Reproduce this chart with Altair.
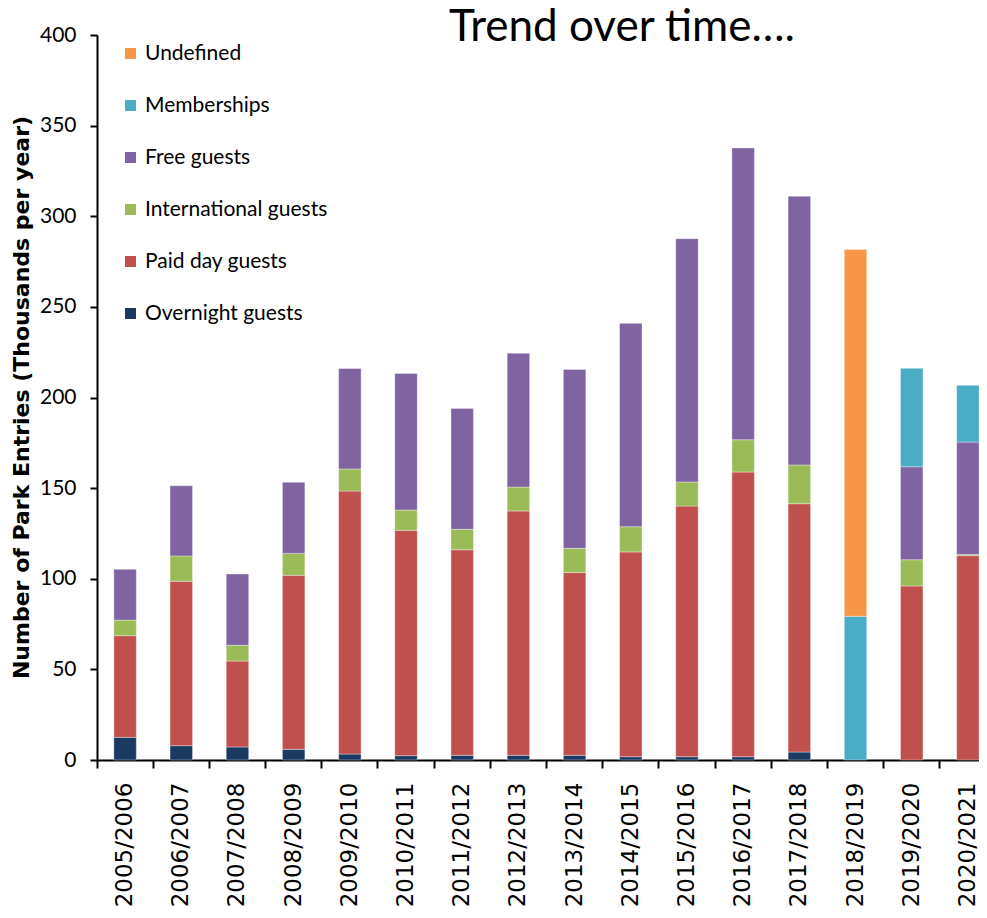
import altair as alt
import pandas as pd

seasons = ["2005/2006", "2006/2007", "2007/2008", "2008/2009", "2009/2010",
           "2010/2011", "2011/2012", "2012/2013", "2013/2014", "2014/2015",
           "2015/2016", "2016/2017", "2017/2018", "2018/2019", "2019/2020",
           "2020/2021"]

overnight = [12.5, 7.9, 7.2, 5.9, 3.3, 2.4, 2.6, 2.6, 2.6, 1.8, 1.8, 1.8, 4.4, 0, 0, 0]
paid_day = [56.1, 90.7, 47.4, 96.0, 145.1, 124.3, 113.4, 134.8, 100.8, 113.0, 138.3, 157.1, 137.0, 0, 96.0, 112.7]
international = [8.6, 14.0, 8.7, 12.1, 12.2, 11.2, 11.3, 13.2, 13.4, 13.9, 13.3, 17.8, 21.4, 0, 14.5, 0.7]
free = [28.0, 38.7, 39.3, 39.2, 55.4, 75.4, 66.7, 73.8, 98.7, 112.2, 134.2, 161.0, 148.2, 0, 51.3, 62.0]
memberships = [0, 0, 0, 0, 0, 0, 0, 0, 0, 0, 0, 0, 0, 79.3, 54.3, 31.3]
undefined = [0, 0, 0, 0, 0, 0, 0, 0, 0, 0, 0, 0, 0, 202.3, 0, 0]

series_names = ["Overnight guests", "Paid day guests", "International guests",
                "Free guests", "Memberships", "Undefined"]
series_values = [overnight, paid_day, international, free, memberships, undefined]
series_colors = ["#1B3A62", "#C0504D", "#9BBB59", "#8064A2", "#4BACC6", "#F79646"]

y_ticks = [0, 50, 100, 150, 200, 250, 300, 350, 400]
title_text = "Trend over time…."
y_title = "Number of Park Entries (Thousands per year)"

rows = []
for order, (name, vals) in enumerate(zip(series_names, series_values)):
    for s, v in zip(seasons, vals):
        if v > 0:
            rows.append({"season": s, "series": name, "value": v, "ord": order})
df = pd.DataFrame(rows)

legend_order = series_names[::-1]
legend_colors = series_colors[::-1]

bars = alt.Chart(df).mark_bar(
    width={"band": 0.4}, stroke="white", strokeWidth=0.6, strokeOpacity=0.6
).encode(
    x=alt.X("season:N", sort=seasons, title=None,
            scale=alt.Scale(range=[0, 899], paddingInner=0, paddingOuter=0),
            axis=alt.Axis(labelAngle=-90, labelAlign="right", labelBaseline="middle",
                          bandPosition=0, labelOffset=0, labelPadding=14,
                          tickSize=8, labelFont="DejaVu Sans", labelFontSize=23,
                          labelColor="black")),
    y=alt.Y("value:Q", stack="zero",
            scale=alt.Scale(domain=[0, 400], nice=False),
            axis=alt.Axis(values=y_ticks, title=y_title, titleFont="DejaVu Sans",
                          titleFontSize=22, titleFontWeight="bold", titleColor="black",
                          titleX=-64, titleY=362, titleAngle=-90, titleAlign="center",
                          titleBaseline="bottom",
                          labelFont="Lato", labelFontSize=21, labelColor="black",
                          tickSize=7, labelPadding=14, grid=False)),
    color=alt.Color("series:N",
                    scale=alt.Scale(domain=legend_order, range=legend_colors),
                    legend=alt.Legend(title=None, orient="none", legendX=23, legendY=8,
                                      symbolType="square", symbolSize=121,
                                      symbolStrokeWidth=0, labelFont="Lato",
                                      labelFontSize=21, labelColor="black",
                                      labelLimit=400,
                                      labelOffset=4, rowPadding=30)),
    order=alt.Order("ord:Q", sort="ascending"),
)

title_df = pd.DataFrame({"label": [title_text]})
title = alt.Chart(title_df).mark_text(
    font="Lato", fontSize=44, color="black", align="center", baseline="alphabetic"
).encode(text="label:N", x=alt.value(525), y=alt.value(6))

chart = alt.layer(bars, title).properties(
    width=882, height=725,
    autosize=alt.AutoSizeParams(type="none"),
    padding={"left": 89, "top": 27, "right": 0, "bottom": 146},
).configure_view(stroke=None).configure_axis(
    domainColor="black", domainWidth=2, tickColor="black", tickWidth=2, grid=False
)

chart.save("out.html", embed_options={"renderer": "svg", "actions": False})
